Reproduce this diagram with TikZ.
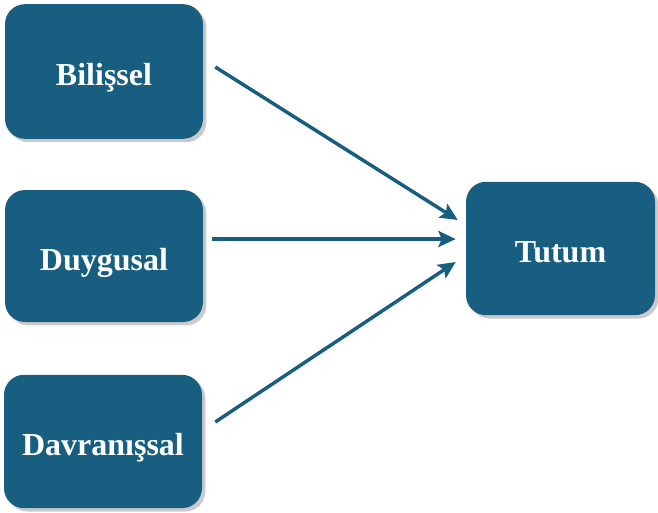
\documentclass[tikz,border=0pt]{standalone}
\usepackage{fontspec}
\setmainfont{Liberation Serif}
\usepackage{xcolor}
\usetikzlibrary{arrows.meta,positioning,calc,shadows}
\definecolor{boxblue}{HTML}{175E80}

\begin{document}
\begin{tikzpicture}[x=0.75pt, y=-0.75pt]

% Components of attitude
\tikzstyle{comp}=[rectangle, rounded corners=15pt, fill=boxblue, text=white, font=\fontsize{24}{28}\selectfont\bfseries, text height=21pt, text depth=0pt, minimum width=148.5pt, minimum height=100pt, drop shadow={shadow xshift=2.5pt, shadow yshift=-2.5pt, opacity=0.35, fill=black!60}]
\tikzstyle{link}=[-{Stealth[length=13pt, width=12pt, inset=2.5pt]}, line width=2.6pt, draw=boxblue]

\useasboundingbox (0,0) rectangle (658,512);

% Left column
\node[comp, minimum height=101pt] (bil) at (104,71.5) {Bilişsel};
\node[comp, minimum height=99pt] (duy) at (104,256) {Duygusal};
\node[comp] (dav) at (103,441.5) {Davranışsal};

% Result
\node[comp, minimum width=141.75pt] (tut) at (560.5,248.5) {Tutum};

% Arrows
\draw[link] ($(bil.east)+(12,-4.5)$) -- ($(tut.west)+(-8,-28.5)$);
\draw[link] ($(duy.east)+(9,-17)$) -- ($(tut.west)+(-10,-9.5)$);
\draw[link] ($(dav.east)+(13,-19.5)$) -- ($(tut.west)+(-10,13.5)$);

\end{tikzpicture}
\end{document}
